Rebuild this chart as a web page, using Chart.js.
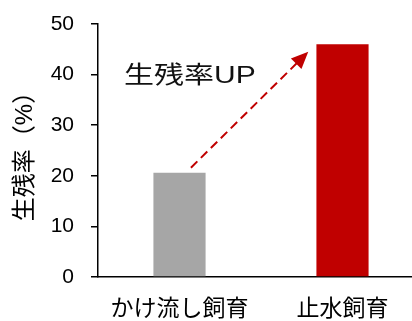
<!DOCTYPE html>
<html>
<head>
<meta charset="utf-8">
<script src="https://cdn.jsdelivr.net/npm/chart.js@4.4.0/dist/chart.umd.min.js"></script>
<style>
  html, body { margin: 0; padding: 0; background: #fff; overflow: hidden; }
  #wrap { width: 412px; height: 321px; overflow: hidden; }
</style>
</head>
<body>
<div id="wrap"><canvas id="grafico" width="424" height="321"></canvas></div>
<script>
/* ============ DATOS ============ */
const categorias = ["かけ流し飼育", "止水飼育"];
const valores = [20.6, 46.0];
const colores = ["#A6A6A6", "#C00000"];
const ticksY = [0, 10, 20, 30, 40, 50];

// flecha y texto en coordenadas de datos (índice de categoría, valor)
const flechaDesde = [0.07, 21.6];
const flechaHasta = [0.79, 44.5];
const textoFlecha = "生残率UP";
const textoPos = [-0.34, 39.6];

const fuente = "'Liberation Sans', 'Noto Sans CJK JP', sans-serif";

/* ============ PLUGIN FLECHA ============ */
const pluginFlecha = {
  id: "flecha",
  afterDatasetsDraw(chart) {
    const { ctx, scales: { x, y } } = chart;
    const x1 = x.getPixelForValue(flechaDesde[0]);
    const y1 = y.getPixelForValue(flechaDesde[1]);
    const x2 = x.getPixelForValue(flechaHasta[0]);
    const y2 = y.getPixelForValue(flechaHasta[1]);
    const ang = Math.atan2(y2 - y1, x2 - x1);
    const largo = 17, ancho = 7.5;

    ctx.save();
    // línea discontinua
    ctx.strokeStyle = "#C00000";
    ctx.lineWidth = 2;
    ctx.setLineDash([9, 5]);
    ctx.beginPath();
    ctx.moveTo(x1, y1);
    ctx.lineTo(x2 - Math.cos(ang) * (largo - 2), y2 - Math.sin(ang) * (largo - 2));
    ctx.stroke();
    ctx.setLineDash([]);
    // punta
    ctx.fillStyle = "#C00000";
    ctx.beginPath();
    ctx.moveTo(x2, y2);
    ctx.lineTo(x2 - Math.cos(ang) * largo - Math.sin(ang) * ancho, y2 - Math.sin(ang) * largo + Math.cos(ang) * ancho);
    ctx.lineTo(x2 - Math.cos(ang) * largo + Math.sin(ang) * ancho, y2 - Math.sin(ang) * largo - Math.cos(ang) * ancho);
    ctx.closePath();
    ctx.fill();

    // texto
    const tx = x.getPixelForValue(textoPos[0]);
    const ty = y.getPixelForValue(textoPos[1]);
    ctx.translate(tx, ty);
    ctx.scale(1.25, 1);
    ctx.fillStyle = "#111";
    ctx.font = "24px " + fuente;
    ctx.textAlign = "left";
    ctx.textBaseline = "middle";
    ctx.fillText(textoFlecha, 0, 0);
    ctx.restore();
  }
};

/* ============ GRÁFICA ============ */
new Chart(document.getElementById("grafico"), {
  type: "bar",
  data: {
    labels: categorias,
    datasets: [{
      data: valores,
      backgroundColor: colores,
      barPercentage: 0.32,
      categoryPercentage: 1
    }]
  },
  options: {
    responsive: false,
    animation: false,
    layout: { padding: { top: 24, right: 0, left: 0, bottom: 0 } },
    plugins: { legend: { display: false }, tooltip: { enabled: false } },
    scales: {
      x: {
        offset: true,
        grid: { display: true, drawOnChartArea: false, drawTicks: false },
        border: { color: "#000", width: 1.5 },
        ticks: { color: "#000", padding: 19, font: { family: fuente, size: 23 } },
        afterFit: s => { s.height = 44; }
      },
      y: {
        min: 0,
        max: 50,
        afterBuildTicks: s => { s.ticks = ticksY.map(v => ({ value: v })); },
        grid: { drawOnChartArea: false, drawTicks: true, tickLength: 7, color: "#000", lineWidth: 1.5 },
        border: { color: "#000", width: 1.5 },
        ticks: { color: "#000", padding: 17, font: { family: fuente, size: 21 } },
        title: {
          display: true,
          text: "生残率（%）",
          color: "#000",
          font: { family: fuente, size: 24 },
          padding: { top: 11, bottom: 0 }
        },
        afterFit: s => { s.width = 98; s.paddingTop = 12; s.paddingBottom = 12; }
      }
    }
  },
  plugins: [pluginFlecha]
});
</script>
</body>
</html>
